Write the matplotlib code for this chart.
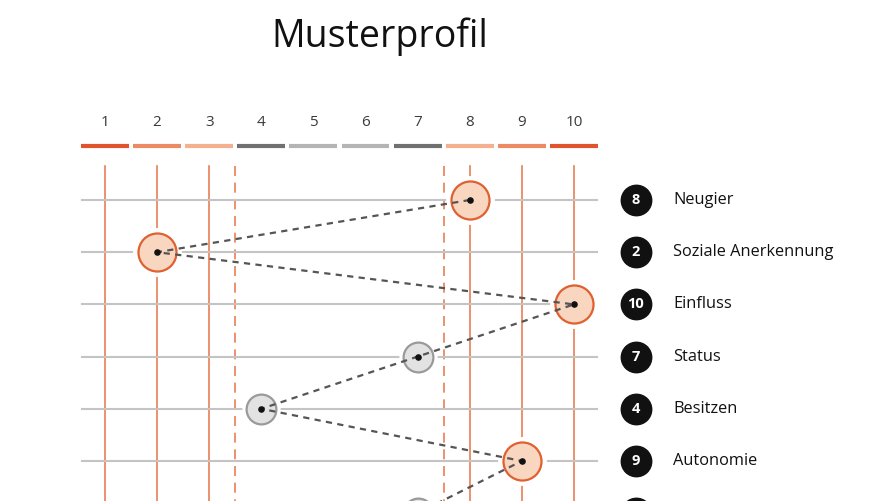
import matplotlib
matplotlib.use("Agg")
import matplotlib.pyplot as plt

# data
scale = list(range(1, 11))
bar_colors = ["#e0532c", "#ec8a64", "#f4b08f", "#707070", "#b4b4b4",
              "#b4b4b4", "#707070", "#f4b08f", "#ec8a64", "#e0532c"]
motives = ["Neugier", "Soziale Anerkennung", "Einfluss", "Status",
           "Besitzen", "Autonomie"]
values = [8, 2, 10, 7, 4, 9, 7]   # last row is cut off at the bottom edge

plt.rcParams["font.family"] = ["Open Sans", "DejaVu Sans"]

W, H = 892, 501
fig = plt.figure(figsize=(W / 100, H / 100), dpi=100)
ax = fig.add_axes([0, 0, 1, 1])

# pixel mapping: col 1 -> x=105, step 52.1 ; row 0 -> y=200, step 52.2
sx, sy = 52.1, 52.2
ax.set_xlim(1 - 105 / sx, 1 + (W - 105) / sx)
ax.set_ylim((H - 200) / sy, -200 / sy)
ax.axis("off")

orange_line = "#e97f55"
n = len(values)
y_top = -0.66
y_bot = n + 1

# header numbers and coloured bars
for v, c in zip(scale, bar_colors):
    ax.text(v, -1.49, str(v), ha="center", va="center", fontsize=11,
            color="#3a3a3a")
    ax.plot([v - 0.46, v + 0.46], [-1.03, -1.03], color=c, lw=3,
            solid_capstyle="butt")

# vertical guide lines
for v in scale:
    if v <= 3 or v >= 8:
        ax.plot([v, v], [y_top, y_bot], color=orange_line, lw=1.2, zorder=1)
for v in (3.5, 7.5):
    ax.plot([v, v], [y_top, y_bot], color=orange_line, lw=1.2,
            ls=(0, (6, 4)), zorder=1)

# horizontal row lines
rows = list(range(n))
for r in rows:
    ax.plot([0.55, 10.45], [r, r], color="#c4c4c4", lw=1.5, zorder=1)

# circles
high = [v <= 3 or v >= 8 for v in values]
size_o, size_g = 750, 460
for r, v, h in zip(rows, values, high):
    s = size_o if h else size_g
    face = "#f9d6c0" if h else "#e2e2e2"
    edge = "#e0602f" if h else "#9a9a9a"
    ax.scatter([v], [r], s=s * 1.65, color="white", zorder=2, lw=0)
    ax.scatter([v], [r], s=s, facecolor=face, edgecolor=edge, lw=1.6,
               zorder=3)

ax.plot(values, rows, color="#555555", lw=1.6, ls=(0, (2.8, 2.4)), zorder=4)
ax.scatter(values, rows, s=14, color="#111111", zorder=5)

# right-side badges; labels only for the rows that are visible
ax.scatter([11.19] * n, rows, s=480, color="#111111", zorder=3)
for r, v, m in zip(rows, values, motives):
    ax.text(11.19, r, str(v), ha="center", va="center", fontsize=10.5,
            color="white", fontweight="bold", zorder=4)
    ax.text(11.9, r, m, ha="left", va="center", fontsize=11.8,
            color="#111111", fontweight="medium")

fig.text(380 / W, 1 - 47 / H, "Musterprofil", ha="center", va="baseline",
         fontsize=27, color="#111111")

fig.savefig("out.png", dpi=100)
